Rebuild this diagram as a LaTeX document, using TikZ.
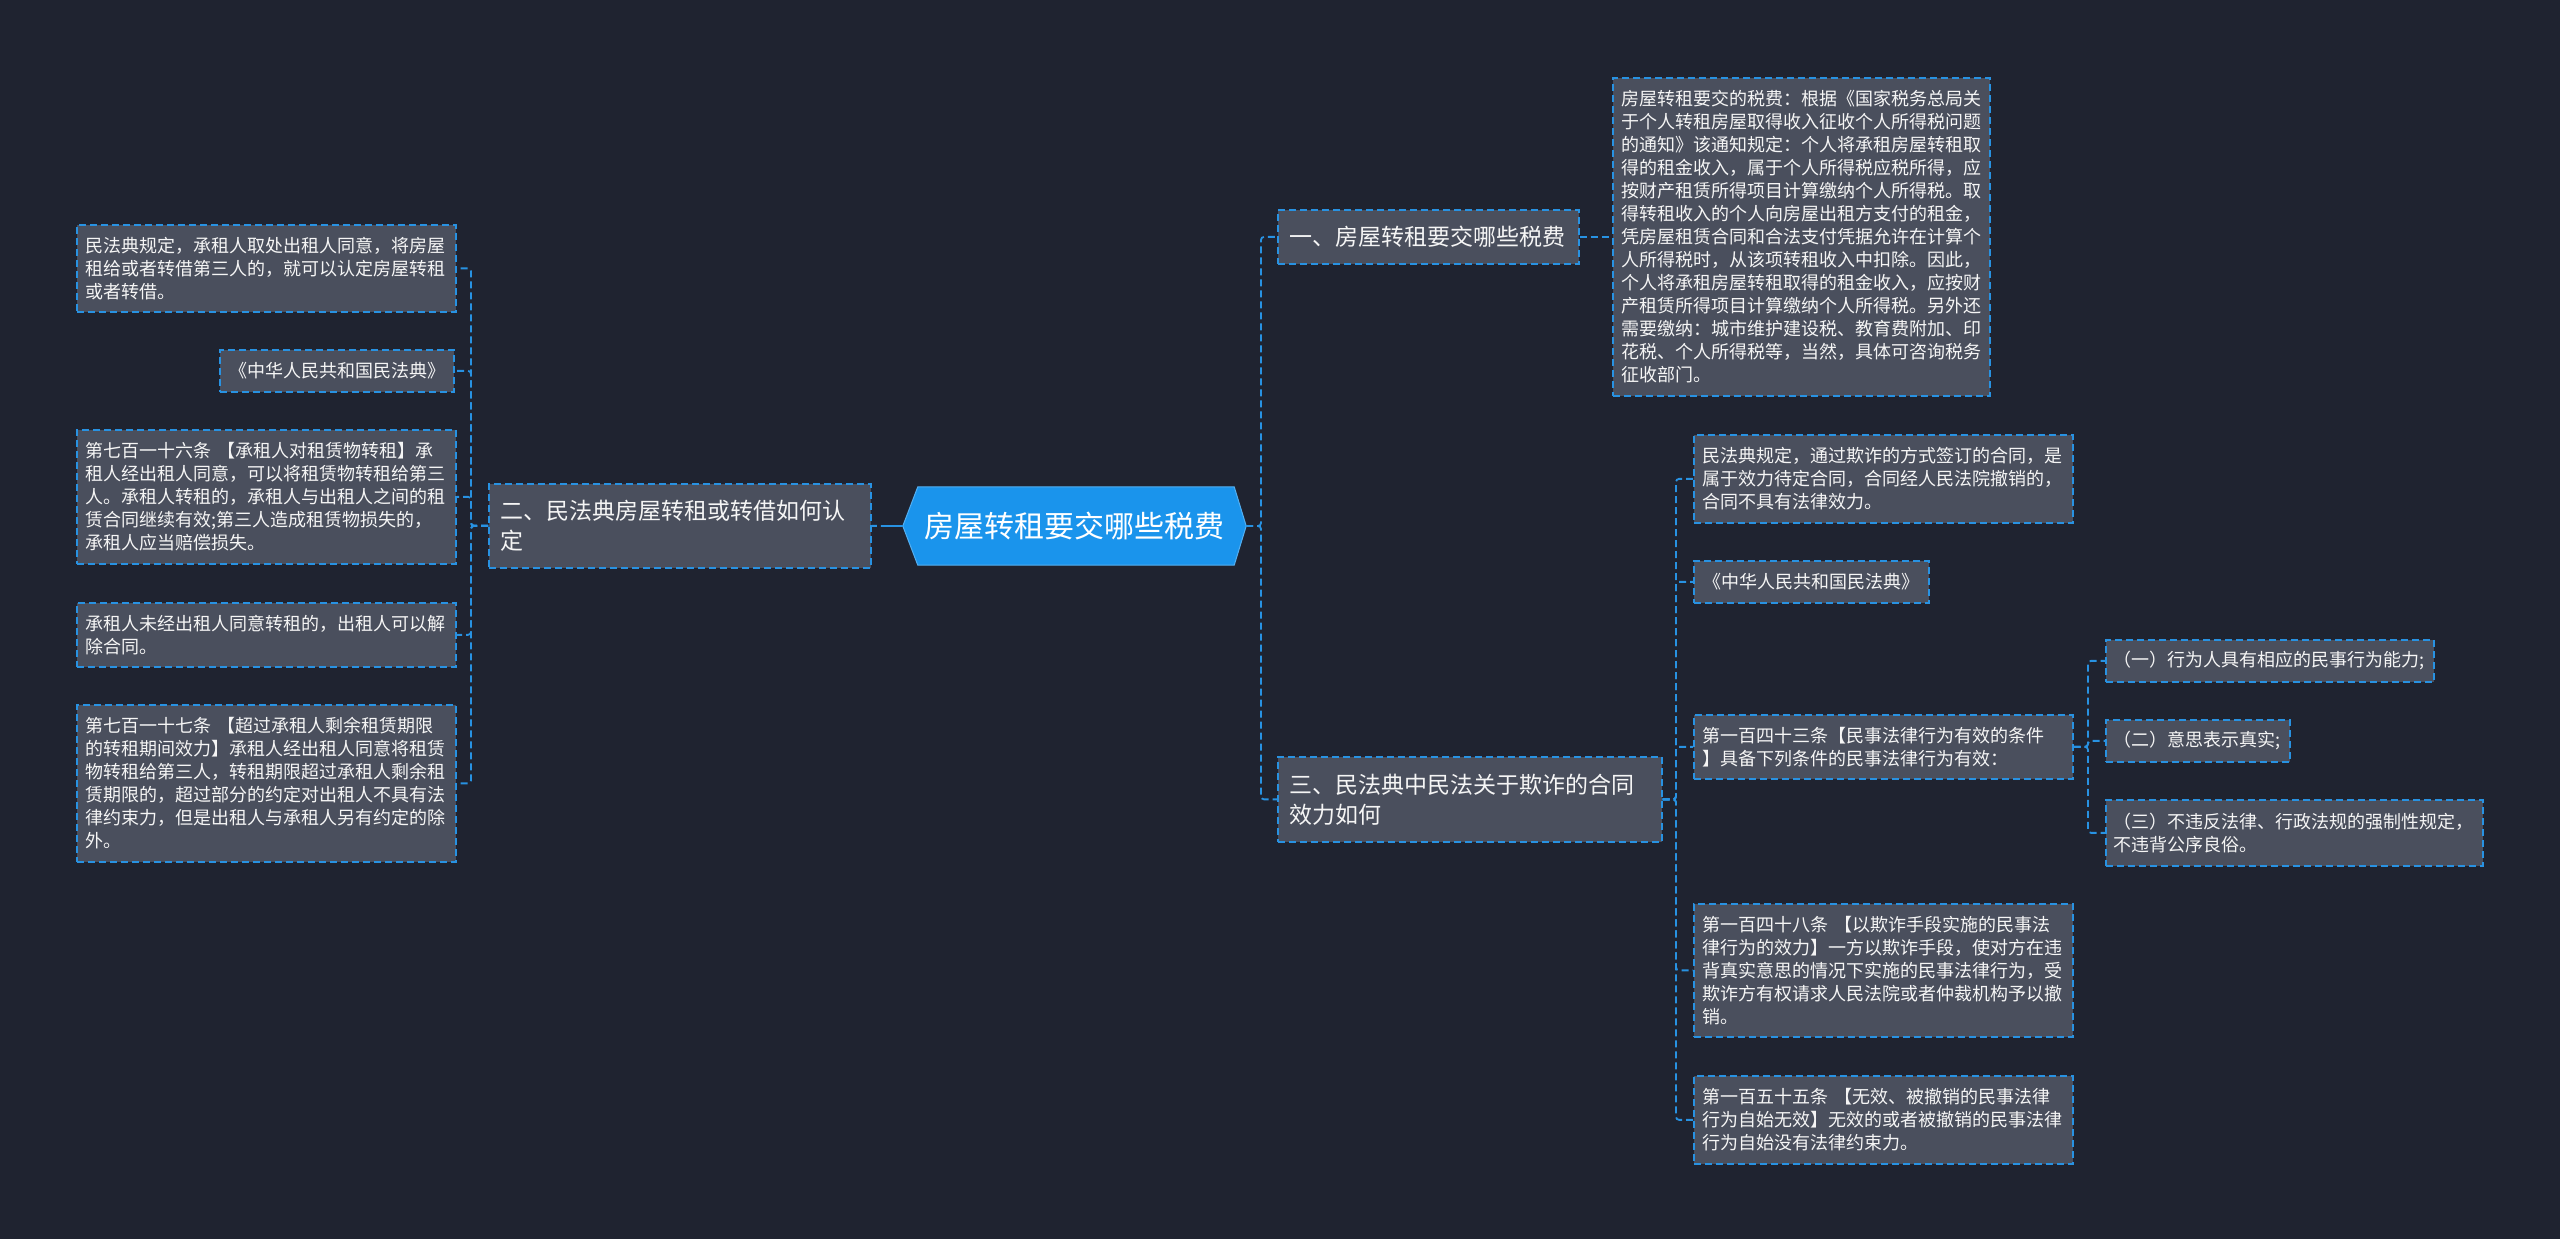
\documentclass[tikz,border=0pt]{standalone}
\usepackage{fontspec}
\setmainfont{Noto Sans CJK SC}
\usetikzlibrary{backgrounds}
\definecolor{bg}{RGB}{31,35,48}
\definecolor{boxfill}{RGB}{74,79,93}
\definecolor{dashblue}{RGB}{40,146,226}
\definecolor{centerblue}{RGB}{26,148,236}
\definecolor{txt}{RGB}{245,245,245}
\begin{document}
\begin{tikzpicture}[x=1pt,y=-1pt,
  box/.style={draw=dashblue, dash pattern=on 7pt off 4pt, line width=1.7pt, fill=boxfill, text=txt, inner ysep=0pt},
  leaf/.style={box, font=\fontsize{18}{23}\selectfont, align=left, inner xsep=9pt, text width=361pt},
  branch/.style={box, font=\fontsize{23}{30}\selectfont, align=left, inner xsep=12pt},
  conn/.style={draw=dashblue, dash pattern=on 7pt off 4pt, line width=1.8pt, rounded corners=3pt}
]
\begin{scope}[on background layer]
\fill[bg] (0,0) rectangle (2560,1239);
\end{scope}

% trunk coordinates
\coordinate (tR) at (1261,0);
\coordinate (tL) at (471,0);
\coordinate (t3) at (1676,0);
\coordinate (t33) at (2088,0);

% center
\node[text=white, font=\fontsize{30}{36}\selectfont, minimum width=343pt, minimum height=78pt, inner sep=0pt] (c) at (1074.5,526) {房屋转租要交哪些税费};
\begin{scope}[on background layer]
\filldraw[fill=centerblue, draw=centerblue!75!white, line width=1pt]
  (c.west) -- ([xshift=15pt]c.north west) -- ([xshift=-12pt]c.north east) -- (c.east)
  -- ([xshift=-12pt]c.south east) -- ([xshift=15pt]c.south west) -- cycle;
\end{scope}

% branches
\node[branch, anchor=north west, text width=277pt, minimum height=54pt] (b1) at (1277,209) {一、房屋转租要交哪些税费};
\node[branch, anchor=north west, text width=358pt, minimum height=84pt] (b2) at (488,483) {二、民法典房屋转租或转借如何认\\定};
\node[branch, anchor=north west, text width=360pt, minimum height=85pt] (b3) at (1277,756) {三、民法典中民法关于欺诈的合同\\效力如何};

% branch 1 leaf
\node[leaf, anchor=north west, inner xsep=8.5pt, text width=360pt, minimum height=318pt] (r0) at (1612,77) {房屋转租要交的税费：根据《国家税务总局关\\于个人转租房屋取得收入征收个人所得税问题\\的通知》该通知规定：个人将承租房屋转租取\\得的租金收入，属于个人所得税应税所得，应\\按财产租赁所得项目计算缴纳个人所得税。取\\得转租收入的个人向房屋出租方支付的租金，\\凭房屋租赁合同和合法支付凭据允许在计算个\\人所得税时，从该项转租收入中扣除。因此，\\个人将承租房屋转租取得的租金收入，应按财\\产租赁所得项目计算缴纳个人所得税。另外还\\需要缴纳：城市维护建设税、教育费附加、印\\花税、个人所得税等，当然，具体可咨询税务\\征收部门。};

% branch 2 leaves (left)
\node[leaf, anchor=north west, minimum height=87pt] (L1) at (76,224) {民法典规定，承租人取处出租人同意，将房屋\\租给或者转借第三人的，就可以认定房屋转租\\或者转借。};
\node[leaf, anchor=north east, text width=216pt, align=center, minimum height=42pt] (L2) at (455,349) {《中华人民共和国民法典》};
\node[leaf, anchor=north west, minimum height=134pt] (L3) at (76,429) {第七百一十六条 【承租人对租赁物转租】承\\租人经出租人同意，可以将租赁物转租给第三\\人。承租人转租的，承租人与出租人之间的租\\赁合同继续有效;第三人造成租赁物损失的，\\承租人应当赔偿损失。};
\node[leaf, anchor=north west, minimum height=64pt] (L4) at (76,602) {承租人未经出租人同意转租的，出租人可以解\\除合同。};
\node[leaf, anchor=north west, minimum height=157pt] (L5) at (76,704) {第七百一十七条 【超过承租人剩余租赁期限\\的转租期间效力】承租人经出租人同意将租赁\\物转租给第三人，转租期限超过承租人剩余租\\赁期限的，超过部分的约定对出租人不具有法\\律约束力，但是出租人与承租人另有约定的除\\外。};

% branch 3 leaves (right)
\node[leaf, anchor=north west, minimum height=88pt] (R1) at (1693,434) {民法典规定，通过欺诈的方式签订的合同，是\\属于效力待定合同，合同经人民法院撤销的，\\合同不具有法律效力。};
\node[leaf, anchor=north west, text width=217pt, align=center, minimum height=42pt] (R2) at (1693,560) {《中华人民共和国民法典》};
\node[leaf, anchor=north west, minimum height=64pt] (R3) at (1693,714) {第一百四十三条【民事法律行为有效的条件\\】具备下列条件的民事法律行为有效：};
\node[leaf, anchor=north west, minimum height=133pt] (R4) at (1693,903) {第一百四十八条 【以欺诈手段实施的民事法\\律行为的效力】一方以欺诈手段，使对方在违\\背真实意思的情况下实施的民事法律行为，受\\欺诈方有权请求人民法院或者仲裁机构予以撤\\销。};
\node[leaf, anchor=north west, minimum height=88pt] (R5) at (1693,1075) {第一百五十五条 【无效、被撤销的民事法律\\行为自始无效】无效的或者被撤销的民事法律\\行为自始没有法律约束力。};

% R3 sub leaves
\node[leaf, anchor=north west, inner xsep=8pt, text width=312pt, minimum height=42pt] (S1) at (2105,639) {（一）行为人具有相应的民事行为能力;};
\node[leaf, anchor=north west, inner xsep=8pt, text width=168pt, minimum height=42pt] (S2) at (2105,719) {（二）意思表示真实;};
\node[leaf, anchor=north west, inner xsep=8pt, text width=361pt, minimum height=66pt] (S3) at (2105,799) {（三）不违反法律、行政法规的强制性规定，\\不违背公序良俗。};

% connectors
\draw[conn, dash pattern=on 22pt off 4pt on 8pt off 10pt] (c.west) -- (b2.east);
\draw[conn] (c.east) -- (c.east -| tR) |- (b1.west);
\draw[conn] (c.east) -- (c.east -| tR) |- (b3.west);
\draw[conn] (b1.east) -- (r0.west);

\foreach \n in {L1,L2,L3,L4,L5}
  \draw[conn] (b2.west) -- (b2.west -| tL) |- (\n.east);
\foreach \n in {R1,R2,R3,R4,R5}
  \draw[conn] (b3.east) -- (b3.east -| t3) |- (\n.west);
\foreach \n in {S1,S2,S3}
  \draw[conn] (R3.east) -- (R3.east -| t33) |- (\n.west);
\end{tikzpicture}
\end{document}
